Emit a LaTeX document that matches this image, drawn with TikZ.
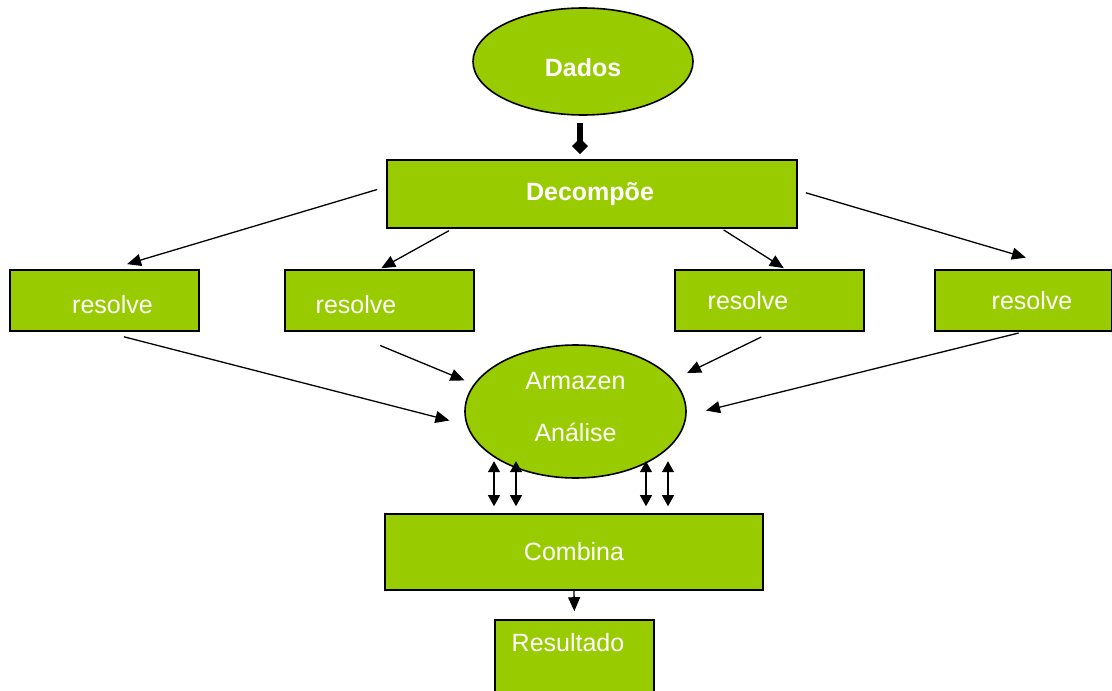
\documentclass[tikz,border=0pt]{standalone}
\usepackage{fontspec}
\setmainfont{Liberation Sans}
\usetikzlibrary{arrows.meta, shapes.geometric}
\definecolor{leaf}{HTML}{99CC00}

\begin{document}
\begin{tikzpicture}[
  x=0.5pt, y=-0.5pt,
  box/.style = {rectangle, draw, line width=0.8pt, fill=leaf, inner sep=0pt},
  blob/.style = {ellipse, draw, line width=0.8pt, fill=leaf, inner sep=0pt},
  lbl/.style = {text=white, inner sep=0pt, font=\fontsize{12.5}{14}\selectfont},
  smallbox/.style = {box, minimum width=94.5pt, minimum height=30.5pt},
  arr/.style = {-{Triangle[length=7pt,width=6pt]}, line width=0.65pt},
  darr/.style = {{Triangle[length=5.5pt,width=6pt]}-{Triangle[length=5.5pt,width=6pt]}, line width=0.65pt}
]
  \clip (0,0) rectangle (1112,690);

  \node[blob, minimum width=110pt, minimum height=53.5pt,
        label={[lbl, font=\fontsize{12.5}{14}\selectfont\bfseries, yshift=-3pt]center:Dados}] (dados) at (583,61.5) {};
  \node[box, minimum width=205pt, minimum height=34pt,
        label={[lbl, font=\fontsize{12.5}{14}\selectfont\bfseries, xshift=-1pt]center:Decompõe}] (decomp) at (592,194) {};

  \node[smallbox, label={[lbl, xshift=4pt, yshift=-2.25pt]center:resolve}] (res1) at (104.5,300.5) {};
  \node[smallbox, label={[lbl, xshift=-11.75pt, yshift=-2.25pt]center:resolve}] (res2) at (379.5,300.5) {};
  \node[smallbox, label={[lbl, xshift=-10.75pt]center:resolve}] (res3) at (769.5,300.5) {};
  \node[box, minimum width=88.5pt, minimum height=30.5pt,
        label={[lbl, xshift=4.25pt]center:resolve}] (res4) at (1023.5,300.5) {};

  \node[blob, minimum width=110.5pt, minimum height=66.5pt,
        label={[lbl, yshift=15.25pt]center:Armazen},
        label={[lbl, yshift=-10.25pt]center:Análise}] (armaz) at (575.5,411.5) {};

  \node[box, minimum width=189pt, minimum height=38pt,
        label={[lbl]center:Combina}] (combina) at (574,552) {};
  \node[box, minimum width=79.5pt, minimum height=40pt,
        label={[lbl, xshift=-3.25pt, yshift=8.5pt]center:Resultado}] (result) at (574.5,660) {};

  % decomposition
  \draw[-{Diamond[length=8pt,width=8pt]}, line width=3pt, shorten <=3.5pt, shorten >=2.5pt]
    ([xshift=-1.5pt]dados.south) -- ([xshift=-1.5pt]dados.south |- decomp.north);
  \draw[arr, shorten <=4.7pt, shorten >=8.9pt] (decomp.178.4) -- (res1.80);
  \draw[arr, shorten <=2pt, shorten >=1pt] (decomp.194) -- (res2.north);
  \draw[arr, shorten <=1pt, shorten >=1pt] (decomp.345.5) -- (res3.63);
  \draw[arr, shorten <=4.2pt, shorten >=20.4pt] (decomp.1.5) -- (res4.37);

  % results to the store
  \draw[arr, shorten <=10pt, shorten >=8.8pt] (res1.south) -- (armaz.187);
  \draw[arr, shorten <=17.9pt, shorten >=5pt] (res2.224) -- (armaz.165);
  \draw[arr, shorten <=6pt, shorten >=7.5pt] ([xshift=1.25pt]res3.south) -- (armaz.18);
  \draw[arr, shorten <=2.5pt, shorten >=10pt] (res4.south) -- (armaz.358);

  % exchange with combine
  \foreach \dx in {-80,-58,72,94}
    \draw[darr] ([shift={(\dx,-7)}]combina.north) -- ++(0,-45);

  \draw[arr, shorten >=4pt] (combina.south) -- (result.north);
\end{tikzpicture}
\end{document}
